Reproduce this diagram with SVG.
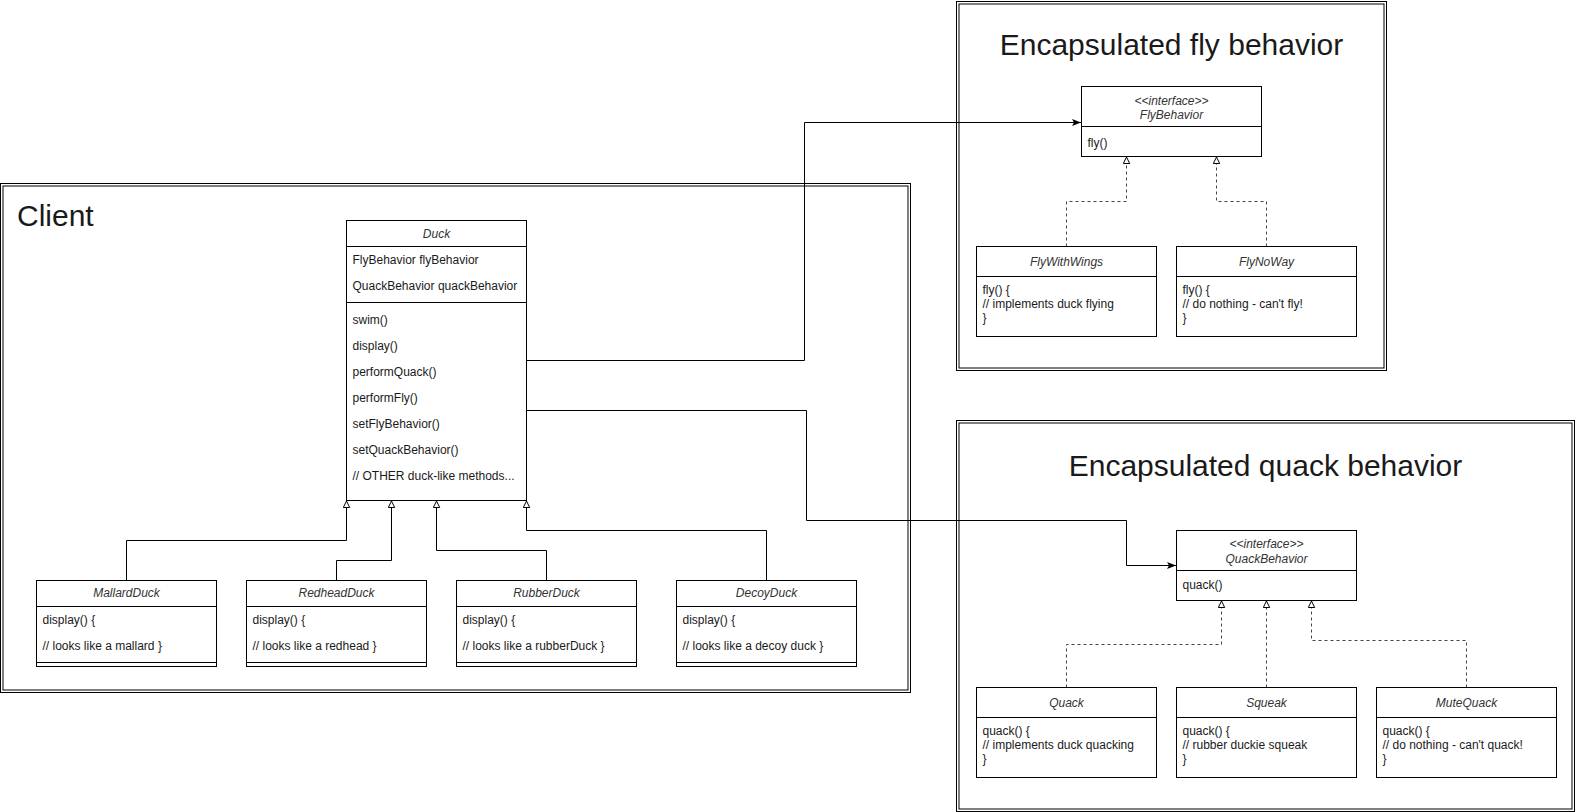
<svg xmlns="http://www.w3.org/2000/svg" width="1577" height="812" viewBox="0 0 1577 812">
  <defs>
    <style>
      text { font-family: "Liberation Sans", Arial, Helvetica, sans-serif; fill: #1a1a1a; }
      .title { font-size: 30px; }
      .name { font-size: 12px; font-style: italic; text-anchor: middle; fill: #333; }
      .row { font-size: 12px; }
      .box { fill: #fff; stroke: #000; stroke-width: 1; }
      .frame { fill: none; stroke: #000; stroke-width: 1; }
      .sep { stroke: #000; stroke-width: 1; }
      .link { fill: none; stroke: #000; stroke-width: 1; }
      .inherit { fill: none; stroke: #000; stroke-width: 1; marker-end: url(#hollow); }
      .realize { fill: none; stroke: #444; stroke-width: 1; stroke-dasharray: 3 3; marker-end: url(#hollow); }
      .assoc { fill: none; stroke: #000; stroke-width: 1; marker-end: url(#filled); }
    </style>
    <!-- hollow triangle for generalization / realization -->
    <marker id="hollow" viewBox="0 0 8 8" refX="7.5" refY="4" markerWidth="8" markerHeight="8" markerUnits="userSpaceOnUse" orient="auto">
      <path d="M1,0.8 L7.5,4 L1,7.2 Z" fill="#fff" stroke="#000" stroke-width="1"/>
    </marker>
    <!-- filled classic arrow for associations -->
    <marker id="filled" viewBox="0 0 9 8" refX="9" refY="4" markerWidth="9" markerHeight="8" markerUnits="userSpaceOnUse" orient="auto">
      <path d="M0,0.5 L9,4 L0,7.5 L2,4 Z" fill="#000"/>
    </marker>
  </defs>

  <rect width="1577" height="812" fill="#fff"/>

  <!-- package frames (double border) -->
  <g id="client-frame">
    <rect class="frame" x="0.5" y="183.5" width="910" height="509"/>
    <rect class="frame" x="3" y="186" width="905" height="504"/>
    <text class="title" x="17" y="226">Client</text>
  </g>
  <g id="fly-frame">
    <rect class="frame" x="956.5" y="1.5" width="430" height="369"/>
    <rect class="frame" x="959" y="4" width="425" height="364"/>
    <text class="title" x="1171.5" y="55" text-anchor="middle">Encapsulated fly behavior</text>
  </g>
  <g id="quack-frame">
    <rect class="frame" x="956.5" y="420.5" width="618" height="391"/>
    <rect class="frame" x="959" y="423" width="613" height="386"/>
    <text class="title" x="1265.5" y="476" text-anchor="middle">Encapsulated quack behavior</text>
  </g>

  <!-- connectors -->
  <g id="connectors">
    <path class="inherit" d="M126.5,580.5 V540.5 H346.5 V501"/>
    <path class="inherit" d="M336.5,580.5 V560.5 H391.5 V501"/>
    <path class="inherit" d="M546.5,580.5 V550.5 H436.5 V501"/>
    <path class="inherit" d="M766.5,580.5 V530.5 H526.5 V501"/>
    <path class="assoc" d="M526.5,360.5 H804.5 V122.5 H1081"/>
    <path class="assoc" d="M526.5,410.5 H806.5 V520.5 H1126.5 V565.5 H1176"/>
    <path class="realize" d="M1066.5,246.5 V201.5 H1126.5 V157"/>
    <path class="realize" d="M1266.5,246.5 V201.5 H1216.5 V157"/>
    <path class="realize" d="M1066.5,687.5 V644.5 H1221.5 V601"/>
    <path class="realize" d="M1266.5,687.5 V601"/>
    <path class="realize" d="M1466.5,687.5 V640.5 H1311.5 V601"/>
  </g>

  <!-- Duck -->
  <g id="duck">
    <rect class="box" x="346.5" y="220.5" width="180" height="280"/>
    <line class="sep" x1="346.5" y1="246.5" x2="526.5" y2="246.5"/>
    <line class="sep" x1="346.5" y1="302.5" x2="526.5" y2="302.5"/>
    <text class="name" x="436.5" y="238">Duck</text>
    <text class="row" x="352.5" y="264">FlyBehavior flyBehavior</text>
    <text class="row" x="352.5" y="290">QuackBehavior quackBehavior</text>
    <text class="row" x="352.5" y="324">swim()</text>
    <text class="row" x="352.5" y="350">display()</text>
    <text class="row" x="352.5" y="376">performQuack()</text>
    <text class="row" x="352.5" y="402">performFly()</text>
    <text class="row" x="352.5" y="428">setFlyBehavior()</text>
    <text class="row" x="352.5" y="454">setQuackBehavior()</text>
    <text class="row" x="352.5" y="480">// OTHER duck-like methods...</text>
  </g>

  <!-- Duck subclasses -->
  <g id="mallard-duck">
    <rect class="box" x="36.5" y="580.5" width="180" height="86"/>
    <line class="sep" x1="36.5" y1="606.5" x2="216.5" y2="606.5"/>
    <line class="sep" x1="36.5" y1="662.5" x2="216.5" y2="662.5"/>
    <text class="name" x="126.5" y="597">MallardDuck</text>
    <text class="row" x="42.5" y="624">display() {</text>
    <text class="row" x="42.5" y="650">// looks like a mallard }</text>
  </g>
  <g id="redhead-duck">
    <rect class="box" x="246.5" y="580.5" width="180" height="86"/>
    <line class="sep" x1="246.5" y1="606.5" x2="426.5" y2="606.5"/>
    <line class="sep" x1="246.5" y1="662.5" x2="426.5" y2="662.5"/>
    <text class="name" x="336.5" y="597">RedheadDuck</text>
    <text class="row" x="252.5" y="624">display() {</text>
    <text class="row" x="252.5" y="650">// looks like a redhead }</text>
  </g>
  <g id="rubber-duck">
    <rect class="box" x="456.5" y="580.5" width="180" height="86"/>
    <line class="sep" x1="456.5" y1="606.5" x2="636.5" y2="606.5"/>
    <line class="sep" x1="456.5" y1="662.5" x2="636.5" y2="662.5"/>
    <text class="name" x="546.5" y="597">RubberDuck</text>
    <text class="row" x="462.5" y="624">display() {</text>
    <text class="row" x="462.5" y="650">// looks like a rubberDuck }</text>
  </g>
  <g id="decoy-duck">
    <rect class="box" x="676.5" y="580.5" width="180" height="86"/>
    <line class="sep" x1="676.5" y1="606.5" x2="856.5" y2="606.5"/>
    <line class="sep" x1="676.5" y1="662.5" x2="856.5" y2="662.5"/>
    <text class="name" x="766.5" y="597">DecoyDuck</text>
    <text class="row" x="682.5" y="624">display() {</text>
    <text class="row" x="682.5" y="650">// looks like a decoy duck }</text>
  </g>

  <!-- fly behaviors -->
  <g id="fly-behavior">
    <rect class="box" x="1081.5" y="86.5" width="180" height="70"/>
    <line class="sep" x1="1081.5" y1="126.5" x2="1261.5" y2="126.5"/>
    <text class="name" x="1171.5" y="105">&lt;&lt;interface&gt;&gt;</text>
    <text class="name" x="1171.5" y="118.5">FlyBehavior</text>
    <text class="row" x="1087.5" y="147">fly()</text>
  </g>
  <g id="fly-with-wings">
    <rect class="box" x="976.5" y="246.5" width="180" height="90"/>
    <line class="sep" x1="976.5" y1="276.5" x2="1156.5" y2="276.5"/>
    <text class="name" x="1066.5" y="265.5">FlyWithWings</text>
    <text class="row" x="982.5" y="294">fly() {</text>
    <text class="row" x="982.5" y="308">// implements duck flying</text>
    <text class="row" x="982.5" y="322">}</text>
  </g>
  <g id="fly-no-way">
    <rect class="box" x="1176.5" y="246.5" width="180" height="90"/>
    <line class="sep" x1="1176.5" y1="276.5" x2="1356.5" y2="276.5"/>
    <text class="name" x="1266.5" y="265.5">FlyNoWay</text>
    <text class="row" x="1182.5" y="294">fly() {</text>
    <text class="row" x="1182.5" y="308">// do nothing - can't fly!</text>
    <text class="row" x="1182.5" y="322">}</text>
  </g>

  <!-- quack behaviors -->
  <g id="quack-behavior">
    <rect class="box" x="1176.5" y="530.5" width="180" height="70"/>
    <line class="sep" x1="1176.5" y1="570.5" x2="1356.5" y2="570.5"/>
    <text class="name" x="1266.5" y="548">&lt;&lt;interface&gt;&gt;</text>
    <text class="name" x="1266.5" y="562.5">QuackBehavior</text>
    <text class="row" x="1182.5" y="588.5">quack()</text>
  </g>
  <g id="quack">
    <rect class="box" x="976.5" y="687.5" width="180" height="90"/>
    <line class="sep" x1="976.5" y1="717.5" x2="1156.5" y2="717.5"/>
    <text class="name" x="1066.5" y="706.5">Quack</text>
    <text class="row" x="982.5" y="735">quack() {</text>
    <text class="row" x="982.5" y="749">// implements duck quacking</text>
    <text class="row" x="982.5" y="763">}</text>
  </g>
  <g id="squeak">
    <rect class="box" x="1176.5" y="687.5" width="180" height="90"/>
    <line class="sep" x1="1176.5" y1="717.5" x2="1356.5" y2="717.5"/>
    <text class="name" x="1266.5" y="706.5">Squeak</text>
    <text class="row" x="1182.5" y="735">quack() {</text>
    <text class="row" x="1182.5" y="749">// rubber duckie squeak</text>
    <text class="row" x="1182.5" y="763">}</text>
  </g>
  <g id="mute-quack">
    <rect class="box" x="1376.5" y="687.5" width="180" height="90"/>
    <line class="sep" x1="1376.5" y1="717.5" x2="1556.5" y2="717.5"/>
    <text class="name" x="1466.5" y="706.5">MuteQuack</text>
    <text class="row" x="1382.5" y="735">quack() {</text>
    <text class="row" x="1382.5" y="749">// do nothing - can't quack!</text>
    <text class="row" x="1382.5" y="763">}</text>
  </g>
</svg>
